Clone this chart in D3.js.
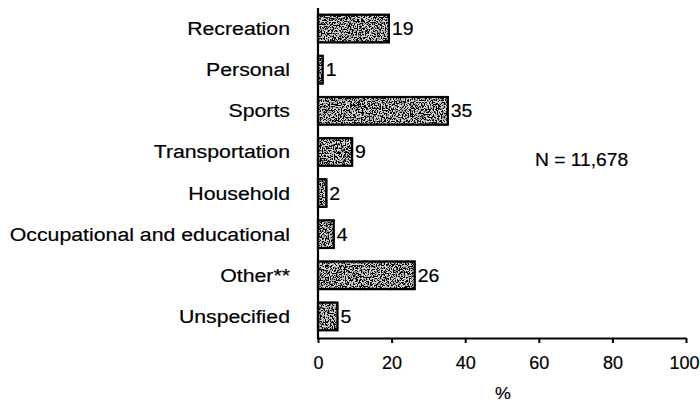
<!DOCTYPE html>
<html><head><meta charset="utf-8">
<script src="https://cdn.jsdelivr.net/npm/d3@7"></script>
<style>body{margin:0;background:#fff}svg{display:block}text{font-family:"Liberation Sans",Arial,sans-serif;fill:#000;stroke:#000;stroke-width:0.2px}</style>
</head><body><svg id="c" width="700" height="405"></svg>
<script>
const categories = ["Recreation","Personal","Sports","Transportation","Household","Occupational and educational","Other**","Unspecified"];
const values = [19,1,35,9,2,4,26,5];
const xTicks = [0,20,40,60,80,100];
const noteText = "N = 11,678";
const axisTitle = "%";

const svg = d3.select("#c");
const x = d3.scaleLinear().domain([0,100]).range([318,686]);
const y = d3.scaleBand().domain(categories).range([8,337]).paddingInner(0.28).paddingOuter(0.14);

const defs = svg.append("defs");
const f = defs.append("filter").attr("id","speck").attr("x",0).attr("y",0).attr("width",1).attr("height",1);
f.append("feTurbulence").attr("type","fractalNoise").attr("baseFrequency","0.75").attr("numOctaves",3).attr("seed",5).attr("result","n");
f.append("feColorMatrix").attr("in","n").attr("type","matrix")
 .attr("values","0 0 0 0 0  0 0 0 0 0  0 0 0 0 0  -10 0 0 0 5.6").attr("result","m");
f.append("feFlood").attr("flood-color","#d6d6d6").attr("result","bg");
f.append("feComposite").attr("in","m").attr("in2","bg").attr("operator","over").attr("result","t");
f.append("feComposite").attr("in","t").attr("in2","SourceGraphic").attr("operator","in");

const g = svg.append("g");
g.selectAll("rect.fill").data(categories).join("rect").attr("class","fill")
 .attr("x",x(0)).attr("y",d=>y(d)).attr("width",(d,i)=>x(values[i])-x(0)+2).attr("height",y.bandwidth())
 .attr("fill","#888").attr("filter","url(#speck)");
g.selectAll("rect.edge").data(categories).join("rect").attr("class","edge")
 .attr("x",x(0)).attr("y",d=>y(d)+1).attr("width",(d,i)=>x(values[i])-x(0)+1).attr("height",y.bandwidth()-2)
 .attr("fill","none").attr("stroke","#000").attr("stroke-width",2.2);

// value labels
g.selectAll("text.val").data(categories).join("text").attr("class","val")
 .attr("transform",(d,i)=>`translate(${x(values[i])+4},${y(d)+y.bandwidth()/2+6.5}) scale(1.08,1)`)
 .style("font-size","18px").text((d,i)=>values[i]);

// category labels
g.selectAll("text.cat").data(categories).join("text").attr("class","cat")
 .attr("transform",d=>`translate(290,${y(d)+y.bandwidth()/2+6.5}) scale(1.12,1)`)
 .attr("text-anchor","end").style("font-size","19px").text(d=>d);

// x axis
const xa = svg.append("g").attr("transform","translate(0,338)")
 .call(d3.axisBottom(x).tickValues(xTicks).tickSize(5).tickSizeOuter(0).tickFormat(d3.format("d")));
xa.select(".domain").attr("stroke","#000").attr("stroke-width",2.2);
xa.selectAll(".tick line").attr("stroke","#000").attr("stroke-width",2);
xa.selectAll(".tick text").attr("y",0).attr("dy",0)
 .attr("transform","translate(0,31)").style("font-size","18px").style("font-family",'"Liberation Sans",Arial,sans-serif')
 .attr("fill","#000").attr("stroke","#000").attr("stroke-width",0.2);
xa.selectAll(".tick").filter(d=>d===100).select("text").attr("text-anchor","end").attr("x",13);

// y axis line
svg.append("line").attr("x1",x(0)).attr("x2",x(0)).attr("y1",8).attr("y2",339).attr("stroke","#000").attr("stroke-width",2.2);

svg.append("text").attr("transform","translate(503,399) scale(1.05,1)").attr("text-anchor","middle").style("font-size","17px").text(axisTitle);
svg.append("text").attr("transform","translate(535,166) scale(1.1,1)").style("font-size","17.5px").text(noteText);
</script></body></html>
